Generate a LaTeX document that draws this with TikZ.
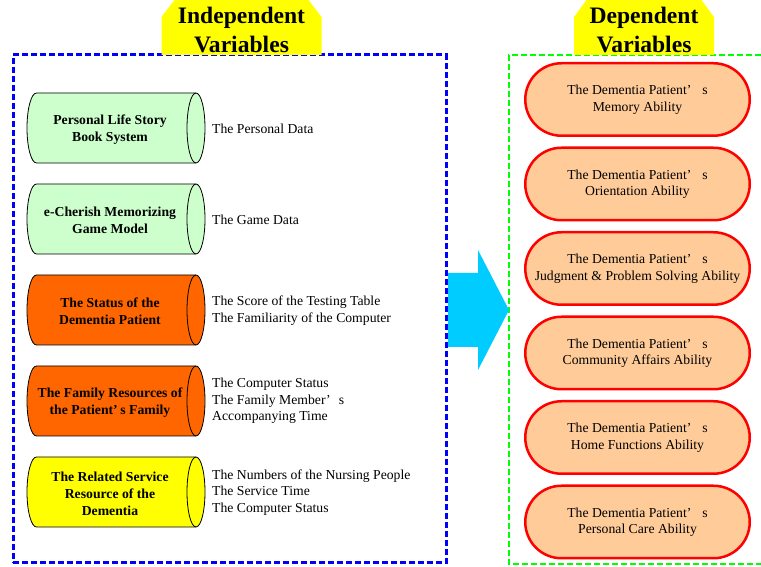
\documentclass[tikz,border=0pt]{standalone}
\usepackage{fontspec}
\setmainfont{Liberation Serif}
\usetikzlibrary{calc,shapes.misc}
\definecolor{cylgreen}{HTML}{CCFFCC}
\definecolor{cylorange}{HTML}{FF6600}
\definecolor{cylyellow}{HTML}{FFFF00}
\definecolor{titleyellow}{HTML}{FFFF00}
\definecolor{pillfill}{HTML}{FFCC99}
\definecolor{pillred}{HTML}{FF0000}
\definecolor{arrowcyan}{HTML}{00CCFF}
\definecolor{boxblue}{HTML}{0000FF}
\definecolor{boxgreen}{HTML}{00FF00}
\newcommand{\fs}[2]{\fontsize{#1}{#2}\selectfont}
\newcommand{\apos}[1]{’\hspace{#1}}
\newcommand{\ptxt}[1]{\raisebox{-2pt}{\begin{tabular}{@{}c@{}}The Dementia Patient\apos{0.8em}s\\#1\end{tabular}}}
\tikzset{
  cylline/.style={draw=black, line width=0.8pt},
  cyltext/.style={align=center, font=\fs{13.7}{17}\bfseries, inner sep=0pt},
  lbltext/.style={align=left, anchor=west, font=\fs{13.7}{16.7}, inner sep=0pt},
  pill/.style={shape=rounded rectangle, draw=pillred, line width=2.5pt, fill=pillfill,
    minimum width=224.5pt, minimum height=72.5pt, font=\fs{13.7}{16.5}, inner sep=0pt},
  titletext/.style={align=center, font=\fs{23.6}{28}\bfseries, inner sep=0pt},
  titlebg/.style={fill=titleyellow},
  bluebox/.style={draw=boxblue, line width=3pt, dash pattern=on 6pt off 3pt, inner sep=0pt},
  greenbox/.style={draw=boxgreen, line width=2.5pt, dash pattern=on 6pt off 3pt},
  bigarrow/.style={fill=arrowcyan}
}
\newcommand{\drawcyl}[4]{%
  \filldraw[cylline, fill=#2] (196,#1+35) -- (36.5,#1+35)
    arc[start angle=90, end angle=270, x radius=9.5, y radius=35]
    -- (196,#1-35)
    arc[start angle=-90, end angle=90, x radius=9, y radius=35] -- cycle;
  \draw[cylline] (196,#1+35) arc[start angle=90, end angle=270, x radius=9, y radius=35];
  \node[cyltext] (#3) at (110,#1-1.5) {#4};
}
\begin{document}
\begin{tikzpicture}[x=1pt, y=1pt]
\useasboundingbox (0,0) rectangle (761,567);

% dependent frame (open to the right: cut by the picture edge)
\coordinate (depwest) at (509,257);
\draw[greenbox] (761,512) -- (509,512) -- (509,3) -- (761,3);

% big arrow
\coordinate (arrowstart) at (448,257);
\fill[bigarrow] ($(arrowstart)+(0,37)$) -- (478,294) -- (478,317) -- (depwest)
  -- (478,197) -- (478,220) -- ($(arrowstart)+(0,-37)$) -- cycle;
\node[bluebox, minimum width=433pt, minimum height=508pt] (indep) at (229.5,258) {};

% titles
\fill[titlebg] (161.5,512) -- (161.5,550) -- (176,569) -- (307,569) -- (321.5,550) -- (321.5,512) -- cycle;
\node[titletext] (indtitle) at (241.5,537) {Independent\\Variables};
\fill[titlebg] (574,512) -- (574,550) -- (588,569) -- (700,569) -- (714,550) -- (714,512) -- cycle;
\node[titletext] (deptitle) at (644,537) {Dependent\\Variables};

% cylinders
\drawcyl{439}{cylgreen}{c1}{Personal Life Story\\Book System}
\drawcyl{348}{cylgreen}{c2}{e-Cherish Memorizing\\Game Model}
\drawcyl{257}{cylorange}{c3}{The Status of the\\Dementia Patient}
\drawcyl{166}{cylorange}{c4}{The Family Resources of\\the Patient\apos{0.2em}s Family}
\drawcyl{75}{cylyellow}{c5}{The Related Service\\Resource of the\\Dementia}

% labels
\node[lbltext] (l1) at (212,438) {The Personal Data};
\node[lbltext] (l2) at (212,347) {The Game Data};
\node[lbltext] (l3) at (212,256.5) {The Score of the Testing Table\\The Familiarity of the Computer};
\node[lbltext] (l4) at (212,166) {The Computer Status\\The Family Member\apos{0.6em}s\\Accompanying Time};
\node[lbltext] (l5) at (212,74.5) {The Numbers of the Nursing People\\The Service Time\\The Computer Status};

% dependent pills
\node[pill] (p1) at (637.5,467.5) {\ptxt{Memory Ability}};
\node[pill] (p2) at (637.5,383) {\ptxt{Orientation Ability}};
\node[pill] (p3) at (637.5,298.5) {\ptxt{Judgment \& Problem Solving Ability}};
\node[pill] (p4) at (637.5,214) {\ptxt{Community Affairs Ability}};
\node[pill] (p5) at (637.5,129.5) {\ptxt{Home Functions Ability}};
\node[pill] (p6) at (637.5,45) {\ptxt{Personal Care Ability}};
\end{tikzpicture}
\end{document}
